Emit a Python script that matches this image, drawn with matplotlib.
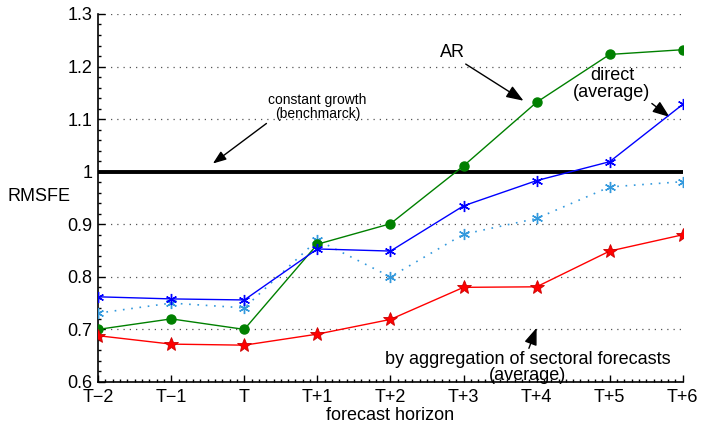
import matplotlib
matplotlib.use("Agg")
import matplotlib.pyplot as plt
from matplotlib.ticker import MultipleLocator

plt.rcParams['font.family'] = ['Liberation Sans', 'DejaVu Sans']

horizons = ["T\u22122", "T\u22121", "T", "T+1", "T+2", "T+3", "T+4", "T+5", "T+6"]
ar = [0.700, 0.720, 0.700, 0.862, 0.901, 1.011, 1.132, 1.223, 1.232]
direct = [0.762, 0.758, 0.756, 0.853, 0.849, 0.935, 0.983, 1.019, 1.128]
direct_other = [0.731, 0.750, 0.741, 0.870, 0.800, 0.881, 0.911, 0.971, 0.981]
aggregation = [0.688, 0.672, 0.670, 0.691, 0.719, 0.780, 0.781, 0.849, 0.880]
benchmark = [1.0] * len(horizons)
yticks = [0.6, 0.7, 0.8, 0.9, 1.0, 1.1, 1.2, 1.3]
ytick_labels = ["0.6", "0.7", "0.8", "0.9", "1", "1.1", "1.2", "1.3"]

x = list(range(len(horizons)))

fig = plt.figure(figsize=(7.01, 4.23), dpi=100)
ax = fig.add_axes([0.14, 0.097, 0.834, 0.870])

ax.plot(x, benchmark, color='black', linewidth=2.8, zorder=2)
ax.plot(x, direct_other, color='#3399dd', linestyle=(0, (1, 4)), linewidth=1.2,
        marker=(6, 2, 0), markersize=8, markeredgewidth=1.0, zorder=3)
ax.plot(x, ar, color='#008000', linewidth=1.0, marker='o', markersize=6.5, zorder=4)
ax.plot(x, direct, color='#0000ff', linewidth=1.0, marker=(6, 2, 0), markersize=8,
        markeredgewidth=1.0, zorder=4)
ax.plot(x, aggregation, color='#ff0000', linewidth=1.0, marker='*', markersize=10.5,
        markeredgecolor='#cc0000', markeredgewidth=0.6, zorder=4)

ax.set_xlim(0, len(horizons) - 1)
ax.set_ylim(0.6, 1.3)
ax.set_xticks(x)
ax.set_xticklabels(horizons)
ax.set_yticks(yticks)
ax.set_yticklabels(ytick_labels)
ax.yaxis.set_minor_locator(MultipleLocator(0.02))
ax.xaxis.set_minor_locator(MultipleLocator(0.1))
ax.tick_params(axis='both', which='both', direction='in', labelsize=13, width=1.0)
ax.tick_params(axis='both', which='major', length=5)
ax.tick_params(axis='both', which='minor', length=2.5)
ax.tick_params(axis='x', pad=5)
ax.tick_params(axis='y', pad=4)
ax.grid(axis='y', which='major', linestyle=(0, (1, 4)), color='#555555', linewidth=0.9)
for s in ['top', 'right']:
    ax.spines[s].set_visible(False)
for s in ['left', 'bottom']:
    ax.spines[s].set_linewidth(1.2)

fig.text(0.056, 0.535, "RMSFE", fontsize=13, ha='center', va='center')
ax.set_xlabel("forecast horizon", fontsize=13, labelpad=0.5)

arrow = dict(arrowstyle='-|>,head_length=0.8,head_width=0.3', color='black', lw=1.0,
             shrinkA=0, shrinkB=0)

ax.annotate("constant growth\n(benchmarck)", xy=(1.57, 1.0155), xytext=(3.0, 1.097),
            ha='center', va='bottom', fontsize=10, linespacing=1.0,
            arrowprops=dict(arrow, relpos=(0.02, 0.0)))
ax.annotate("AR", xy=(5.82, 1.135), xytext=(4.85, 1.21),
            ha='center', va='bottom', fontsize=13,
            arrowprops=dict(arrow, relpos=(0.85, 0.0)))
ax.annotate("direct\n(average)", xy=(7.82, 1.104), xytext=(7.03, 1.135),
            ha='center', va='bottom', fontsize=13, linespacing=0.95,
            arrowprops=dict(arrow, relpos=(0.97, 0.0)))
ax.annotate("by aggregation of sectoral forecasts\n(average)", xy=(6.0, 0.703),
            xytext=(5.88, 0.5965), ha='center', va='bottom', fontsize=13, linespacing=0.9,
            arrowprops=dict(arrow, relpos=(0.5, 1.0)))

fig.savefig("out.png", dpi=100)
